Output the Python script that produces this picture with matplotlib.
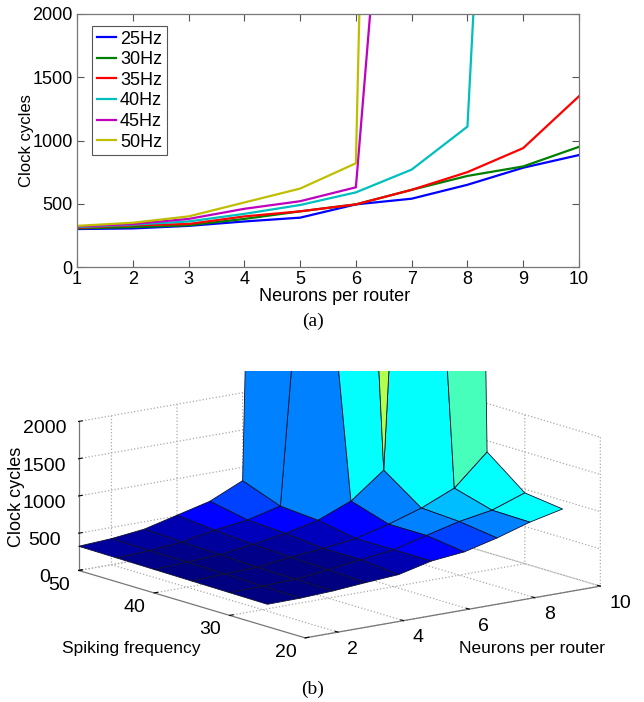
import numpy as np
import matplotlib
matplotlib.use('Agg')
import matplotlib.pyplot as plt
from matplotlib.colors import LinearSegmentedColormap
from matplotlib.patches import Rectangle

plt.rcParams['font.family'] = ['Liberation Sans', 'DejaVu Sans']

# data
neurons = [1, 2, 3, 4, 5, 6, 7, 8, 9, 10]
freqs = [25, 30, 35, 40, 45, 50]
labels = ['25Hz', '30Hz', '35Hz', '40Hz', '45Hz', '50Hz']
line_colors = ['#0000ff', '#008000', '#ff0000', '#00bfbf', '#bf00bf', '#bfbf00']

cycles_25 = [300, 305, 325, 360, 390, 495, 540, 650, 785, 885]
cycles_30 = [305, 315, 330, 380, 440, 495, 610, 720, 795, 950]
cycles_35 = [310, 330, 340, 400, 440, 495, 610, 750, 940, 1350]
cycles_40 = [315, 335, 360, 420, 490, 590, 770, 1110, 9500, 35000]
cycles_45 = [320, 340, 380, 460, 520, 630, 6000, 11400, 20000, 35000]
cycles_50 = [325, 350, 400, 510, 620, 820, 20000, 30000, 35000, 35000]
all_cycles = [cycles_25, cycles_30, cycles_35, cycles_40, cycles_45, cycles_50]

# jet position of every surface cell, one row per frequency step
cell_jet = [
    [.00, .00, .00, .02, .05, .125, .19, .25, .375, .375],
    [.00, .00, .00, .01, .07, .125, .25, .31, .375, .375],
    [.00, .00, .01, .03, .06, .125, .25, .375, .445, .445],
    [.01, .01, .03, .06, .125, .25, .375, .55, .50, .50],
    [.03, .03, .05, .125, .19, .25, .375, .60, .60, .60],
    [.03, .03, .05, .125, .19, .25, .375, .60, .60, .60],
]

# matlab's jet, matplotlib's own is a bit different
jet_stops = [(0, (0, 0, .5)), (.125, (0, 0, 1)), (.375, (0, 1, 1)),
             (.625, (1, 1, 0)), (.875, (1, 0, 0)), (1, (.5, 0, 0))]
mjet = LinearSegmentedColormap.from_list('mjet', jet_stops)

W, H = 644, 702
fig = plt.figure(figsize=(W / 100, H / 100), dpi=100)

#Panel a
ax = fig.add_axes([77 / W, 1 - 267 / H, 502 / W, 253 / H])
for vals, lab, col in zip(all_cycles, labels, line_colors):
    ax.plot(neurons, vals, color=col, lw=1.6, label=lab)
ax.set_xlim(1, 10)
ax.set_ylim(0, 2000)
ax.set_xticks(neurons)
ax.set_yticks([0, 500, 1000, 1500, 2000])
ax.tick_params(direction='in', length=5, width=0.8, color='#555555', labelsize=13, pad=3, top=True, right=True)
for sp in ax.spines.values():
    sp.set_color('#777777')
    sp.set_linewidth(0.9)
ax.set_xlabel('Neurons per router', fontsize=13, labelpad=0, x=0.513)
ax.set_ylabel('Clock cycles', fontsize=12, labelpad=-1)
leg = ax.legend(loc='upper left', bbox_to_anchor=(15 / 502, 1 - 12 / 253), borderaxespad=0,
                fontsize=13, fancybox=False, edgecolor='#555555', framealpha=1,
                handlelength=1.1, handletextpad=0.2, labelspacing=0.2, borderpad=0.25)
leg.get_frame().set_linewidth(0.8)
fig.text(313 / W, 1 - 321 / H, '(a)', family='Liberation Serif', fontsize=14, ha='center', va='center')

#Panel b
side = 532
ax3 = fig.add_axes([66.3 / W, -75 / H, side / W, side / H], projection='3d', proj_type='ortho')
ax3.set_box_aspect((372, 372, 153))
ax3.view_init(elev=13.2, azim=-127.5)
ax3.patch.set_alpha(0)

X, Y = np.meshgrid(neurons, freqs)
Z = np.array(all_cycles, dtype=float)
face = mjet(np.array(cell_jet))
surf = ax3.plot_surface(X, Y, Z, facecolors=face, rstride=1, cstride=1, shade=False,
                        edgecolor='#101030', linewidth=0.6, antialiased=True)
surf.set_clip_path(Rectangle((0, 0), 1, 1 - 371 / H, transform=fig.transFigure))

ax3.set_xlim(1, 10, view_margin=0)
ax3.set_ylim(20, 50, view_margin=0)
ax3.set_zlim(0, 2000, view_margin=0)
ax3.set_xticks([2, 4, 6, 8, 10])
ax3.set_yticks([20, 30, 40, 50])
ax3.set_zticks([0, 500, 1000, 1500, 2000])
for a in (ax3.xaxis, ax3.yaxis, ax3.zaxis):
    a.pane.set_facecolor((1, 1, 1, 0))
    a.pane.set_edgecolor((1, 1, 1, 0))
    a.line.set_color('#777777')
    a.line.set_linewidth(0.9)
    a._axinfo['grid'].update(color='#aaaaaa', linestyle=':', linewidth=0.9)
    a._axinfo['tick'].update(inward_factor=0.0, outward_factor=0.15)
    a.gridlines.set_clip_path(Rectangle((0, 0), 1, 1 - 371 / H, transform=fig.transFigure))
ax3.tick_params(labelsize=14, colors='black')
ax3.tick_params(axis='x', pad=0)
ax3.tick_params(axis='y', pad=-2)
ax3.tick_params(axis='z', pad=5)

# nudge the labels, mplot3d centres them on the tick
for lab in ax3.yaxis.get_ticklabels():
    lab.set_horizontalalignment('right')
for lab in ax3.xaxis.get_ticklabels():
    lab.set_horizontalalignment('left')

fig.text(131 / W, 1 - 648 / H, 'Spiking frequency', fontsize=12.5, ha='center', va='center')
fig.text(532 / W, 1 - 648 / H, 'Neurons per router', fontsize=12.5, ha='center', va='center')
fig.text(17 / W, 1 - 497 / H, 'Clock cycles', fontsize=13, rotation=90, ha='center', va='center')
fig.text(313 / W, 1 - 689 / H, '(b)', family='Liberation Serif', fontsize=14, ha='center', va='center')

fig.savefig('out.png', dpi=100)
